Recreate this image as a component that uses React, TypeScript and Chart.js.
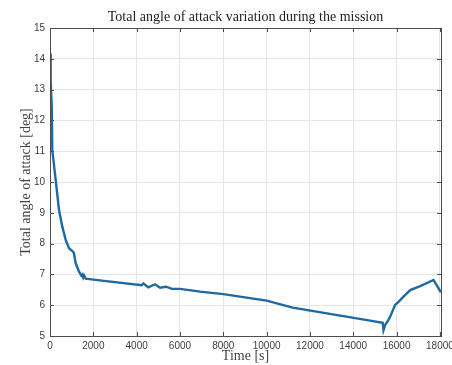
import React, { useEffect, useRef } from "react";
import { Chart, registerables } from "chart.js";

Chart.register(...registerables);

const timeS = [
  0, 30, 80, 106, 263, 416, 568, 725, 878, 1030, 1100, 1187, 1340, 1400, 1446,
  1500, 1538, 1580, 1649, 2494, 4236, 4310, 4540, 4850, 5080, 5360, 5620, 6000,
  6930, 8000, 10000, 11200, 14780, 15360, 15397, 15473, 15626, 15736, 15935,
  16090, 16320, 16630, 17090, 17705, 18045,
];
const angleDeg = [
  14.18, 13.3, 12.44, 11.04, 10.06, 9.09, 8.55, 8.12, 7.85, 7.76, 7.7, 7.36,
  7.09, 7.02, 6.96, 7.0, 6.9, 6.96, 6.86, 6.79, 6.65, 6.71, 6.58, 6.68, 6.57,
  6.6, 6.53, 6.53, 6.44, 6.36, 6.15, 5.92, 5.5, 5.43, 5.19, 5.36, 5.52, 5.68,
  6.01, 6.11, 6.28, 6.49, 6.62, 6.82, 6.42,
];
const xTickValues = [0, 2000, 4000, 6000, 8000, 10000, 12000, 14000, 16000, 18000];
const yTickValues = [5, 6, 7, 8, 9, 10, 11, 12, 13, 14, 15];

const chartTitle = "Total angle of attack variation during the mission";
const xTitle = "Time [s]";
const yTitle = "Total angle of attack [deg]";

const boxPlugin = {
  id: "matlabBox",
  afterDraw(chart: any) {
    const { ctx, chartArea } = chart;
    const { left, right, top, bottom } = chartArea;
    const xs = chart.scales.x;
    const ys = chart.scales.y;
    ctx.save();
    ctx.strokeStyle = "#4d4d4d";
    ctx.lineWidth = 1;
    ctx.beginPath();
    const tl = 4;
    xs.ticks.forEach((t: any) => {
      const px = Math.round(xs.getPixelForValue(t.value)) + 0.5;
      ctx.moveTo(px, bottom);
      ctx.lineTo(px, bottom - tl);
      ctx.moveTo(px, top);
      ctx.lineTo(px, top + tl);
    });
    ys.ticks.forEach((t: any) => {
      const py = Math.round(ys.getPixelForValue(t.value)) + 0.5;
      ctx.moveTo(left, py);
      ctx.lineTo(left + tl, py);
      ctx.moveTo(right, py);
      ctx.lineTo(right - tl, py);
    });
    ctx.stroke();
    ctx.strokeRect(Math.round(left) + 0.5, Math.round(top) + 0.5, Math.round(right - left), Math.round(bottom - top));
    // title centred over the plot area
    ctx.fillStyle = "#222";
    ctx.font = "14px 'Liberation Serif'";
    ctx.textAlign = "center";
    ctx.textBaseline = "middle";
    ctx.fillText(chartTitle, (left + right) / 2, 17);
    ctx.restore();
  },
};

export default function App() {
  const ref = useRef<HTMLCanvasElement | null>(null);
  useEffect(() => {
    document.body.style.margin = "0";
    const canvas = ref.current;
    if (!canvas) return;
    const chart = new Chart(canvas, {
      type: "line",
      data: {
        datasets: [
          {
            data: timeS.map((t, i) => ({ x: t, y: angleDeg[i] })),
            borderColor: "#1f69a3",
            borderWidth: 2.4,
            pointRadius: 0,
            tension: 0,
            fill: false,
          },
        ],
      },
      options: {
        animation: false,
        responsive: false,
        devicePixelRatio: 1,
        layout: { padding: { left: 0, right: 11, top: 28, bottom: 0 } },
        plugins: {
          legend: { display: false },
          tooltip: { enabled: false },
          title: { display: false },
        },
        scales: {
          x: {
            type: "linear",
            min: 0,
            max: 18050,
            afterBuildTicks: (s: any) => {
              s.ticks = xTickValues.map((v) => ({ value: v }));
            },
            afterFit: (s: any) => {
              s.height = 29;
              s.paddingLeft = 0;
              s.paddingRight = 0;
            },
            grid: { color: "#e6e6e6", drawTicks: false },
            border: { display: false },
            ticks: {
              color: "#404040",
              font: { family: "Liberation Sans", size: 10 },
              padding: 4,
              maxRotation: 0,
              autoSkip: false,
              callback: (v: any) => String(v),
            },
            title: {
              display: true,
              text: xTitle,
              color: "#444",
              font: { family: "Liberation Serif", size: 14 },
              padding: { top: 0, bottom: 0 },
            },
          },
          y: {
            type: "linear",
            min: 5,
            max: 15,
            afterBuildTicks: (s: any) => {
              s.ticks = yTickValues.map((v) => ({ value: v }));
            },
            afterFit: (s: any) => {
              s.width = 50;
              s.paddingTop = 0;
              s.paddingBottom = 0;
            },
            grid: { color: "#e6e6e6", drawTicks: false },
            border: { display: false },
            ticks: {
              color: "#404040",
              font: { family: "Liberation Sans", size: 10 },
              padding: 5,
              autoSkip: false,
              callback: (v: any) => String(v),
            },
            title: {
              display: true,
              text: yTitle,
              color: "#444",
              font: { family: "Liberation Serif", size: 14 },
              padding: { top: 17.5, bottom: 0 },
            },
          },
        },
      },
      plugins: [boxPlugin],
    } as any);
    return () => chart.destroy();
  }, []);
  return (
    <div style={{ position: "absolute", left: 0, top: 0, width: 452, height: 365, background: "#fff" }}>
      <canvas ref={ref} width={452} height={365} style={{ display: "block", width: 452, height: 365 }} />
    </div>
  );
}
